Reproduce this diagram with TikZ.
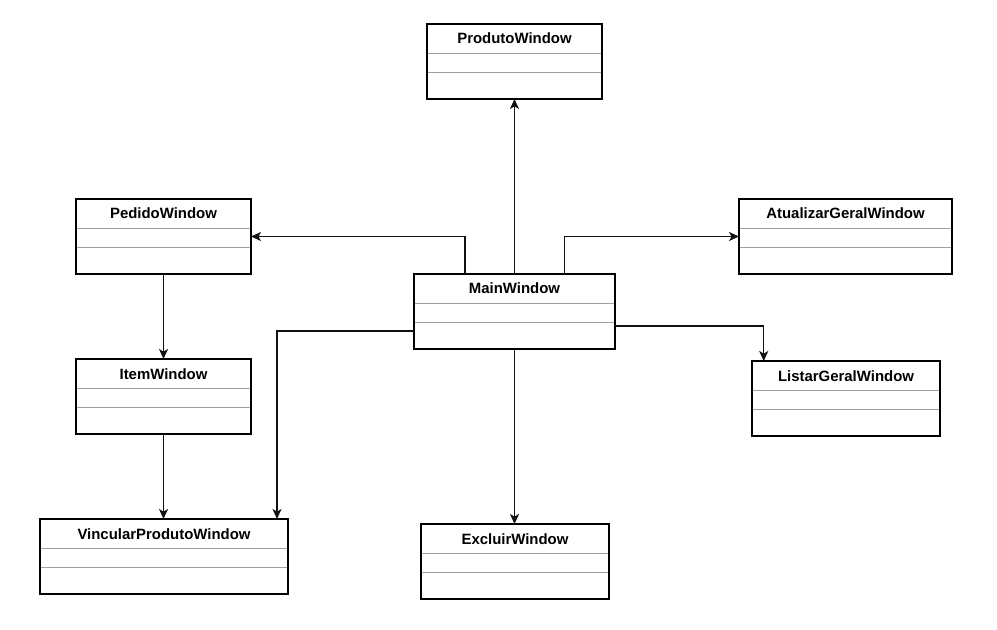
\documentclass[tikz,border=0pt]{standalone}
\usepackage{fontspec}
\setmainfont{Liberation Sans}
\usetikzlibrary{arrows.meta}
\definecolor{divgray}{HTML}{A0A0A0}
\definecolor{edgec}{HTML}{111111}
\tikzset{
  umlcls/.style={draw=black, line width=1pt, fill=white, rectangle, inner sep=0pt, outer sep=0pt, anchor=north west, minimum height=56.25pt},
  umltitle/.style={font=\bfseries\fontsize{11.2}{13}\selectfont, inner sep=0pt, anchor=center},
  divider/.style={draw=divgray, line width=0.75pt},
  conn/.style={draw=edgec, line width=1.1pt, -{Stealth[length=7.5pt, width=6.75pt, inset=2pt]}},
}
\newcommand{\umlbox}[5]{%
  \node[umlcls, minimum width=#4*0.75pt] (#1) at (#2,#3) {};
  \draw[divider] ([yshift=-22.5pt,xshift=0.5pt]#1.north west) -- ([yshift=-22.5pt,xshift=-0.5pt]#1.north east);
  \draw[divider] ([yshift=-36.75pt,xshift=0.5pt]#1.north west) -- ([yshift=-36.75pt,xshift=-0.5pt]#1.north east);
  \node[umltitle] (#1-title) at ([yshift=-11pt]#1.north) {#5};
}
\begin{document}
\begin{tikzpicture}[x=0.75pt, y=-0.75pt]
\useasboundingbox (0,0) rectangle (997,630);
\fill[white] (0,0) rectangle (997,630);
\umlbox{produto}{427}{24}{175}{ProdutoWindow}
\umlbox{pedido}{76}{199}{175}{PedidoWindow}
\umlbox{atualizar}{739}{199}{213}{AtualizarGeralWindow}
\umlbox{main}{414}{274}{201}{MainWindow}
\umlbox{item}{76}{359}{175}{ItemWindow}
\umlbox{listar}{752}{361}{188}{ListarGeralWindow}
\umlbox{vincular}{40}{519}{248}{VincularProdutoWindow}
\umlbox{excluir}{421}{524}{188}{ExcluirWindow}

\draw[conn] (main.north) -- (produto.south);
\draw[conn] ([xshift=-37.125pt]main.north) |- (pedido.east);
\draw[conn] ([xshift=37.5pt]main.north) |- (atualizar.west);
\draw[conn] ([yshift=-10.9pt]main.east) -| ([xshift=8.8pt]listar.north west);
\draw[conn] ([yshift=-14.6pt]main.west) -| ([xshift=-8.25pt]vincular.north east);
\draw[conn] (main.south) -- (main.south |- excluir.north);
\draw[conn] (pedido.south) -- (item.north);
\draw[conn] (item.south) -- (item.south |- vincular.north);
\end{tikzpicture}
\end{document}
